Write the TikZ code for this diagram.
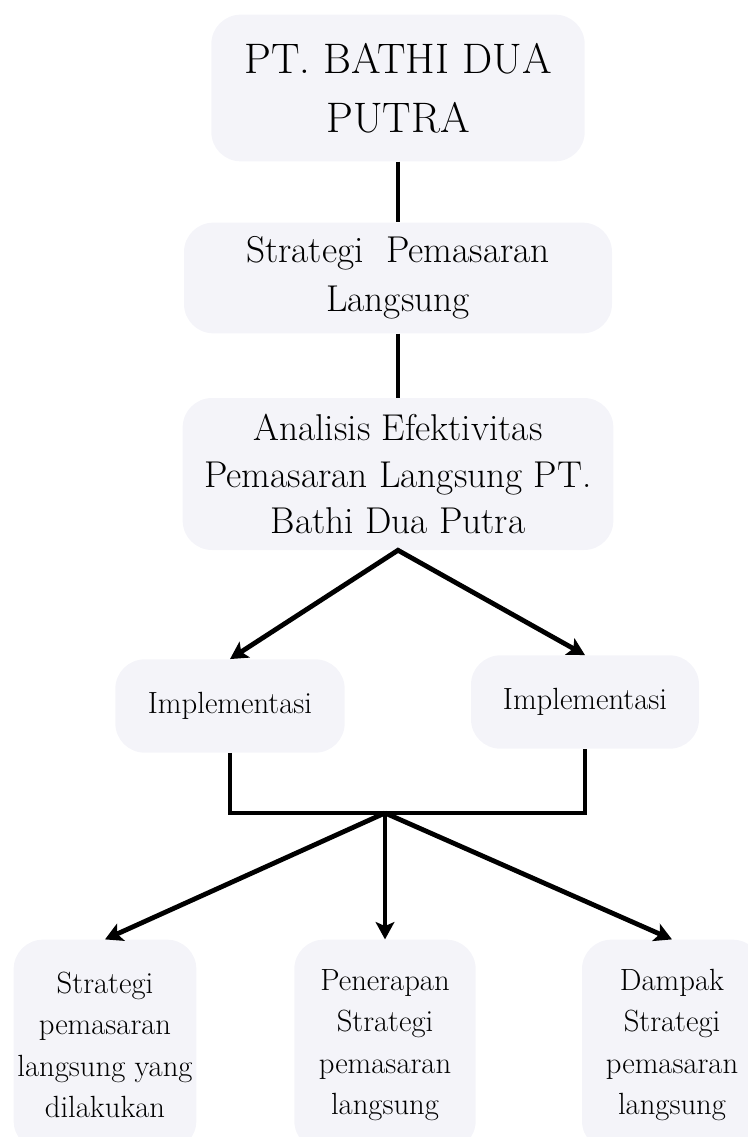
\documentclass[tikz,border=0pt]{standalone}
\usepackage{tikz}
\usepackage{color}
\usetikzlibrary{
	positioning				% Allows relative placement
	, arrows.meta			% Stealth arrow tips
	, calc
}
\definecolor{boxfill}{RGB}{244,244,249}

\begin{document}
\begin{tikzpicture}[
		x=0.75pt, y=-0.75pt
		, card/.style={fill=boxfill, rounded corners=22pt, align=center, inner sep=0pt}
		, link/.style={line width=3.6pt}
		, flow/.style={link, -{Stealth[length=13pt, width=14pt, inset=3pt]}}
	]

	% Fix the page to the size of the picture
	\useasboundingbox (0,0) rectangle (748,1137);
	\clip (0,0) rectangle (748,1137);

	% Top of the chart
	\node [card, minimum width=280pt, minimum height=110pt, font=\fontsize{32}{44}\selectfont] (company) at (398,88) {PT. BATHI DUA\\PUTRA};
	\node [card, minimum width=321pt, minimum height=83pt, font=\fontsize{28}{37}\selectfont] (strategy) at (398,278) {Strategi~~Pemasaran\\Langsung};
	\node [card, minimum width=323pt, minimum height=114pt, font=\fontsize{28}{35}\selectfont] (analysis) at (398,474) {Analisis Efektivitas\\Pemasaran Langsung PT.\\Bathi Dua Putra};

	% The two implementation boxes
	\node [card, minimum width=172pt, minimum height=70pt, font=\fontsize{23}{26}\selectfont] (implleft) at (230,706) {Implementasi};
	\node [card, minimum width=171pt, minimum height=70pt, font=\fontsize{23}{26}\selectfont] (implright) at (585,702) {Implementasi};

	% Bottom row, cut off by the page edge
	\node [card, minimum width=137pt, minimum height=158pt, font=\fontsize{23}{31}\selectfont] (carried) at (105,1045) {Strategi\\pemasaran\\langsung yang\\dilakukan};
	\node [card, minimum width=136pt, minimum height=158pt, font=\fontsize{23}{31}\selectfont] (applied) at (385,1045) {Penerapan\\Strategi\\pemasaran\\langsung};
	\node [card, minimum width=135pt, minimum height=158pt, font=\fontsize{23}{31}\selectfont] (impact) at (672,1045) {Dampak\\Strategi\\pemasaran\\langsung};

	% Plain links down the middle
	\draw [link] (company) -- (strategy);
	\draw [link] (strategy) -- (analysis);

	% Split into the two implementations
	\draw [link, {Stealth[length=13pt, width=14pt, inset=3pt]}-{Stealth[length=13pt, width=14pt, inset=3pt]}] (implleft.north) -- (analysis.south) -- (implright.north);

	% Join them again and fan out
	\coordinate (hub) at (385,813);
	\draw [link] (implleft.south) |- (hub) -| (implright.south);
	\foreach \result in {carried, applied, impact} {
		\draw [flow] (hub) -- (\result.north);
	};
\end{tikzpicture}
\end{document}
